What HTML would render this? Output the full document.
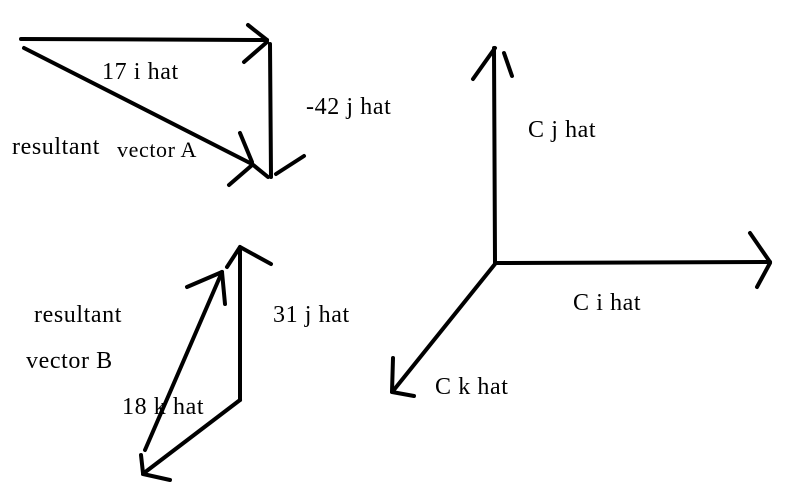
<!DOCTYPE html>
<html><head><meta charset="utf-8"><style>
html,body{margin:0;padding:0;background:#fff;}
svg{display:block;}
text{font-family:"Liberation Serif",serif;font-size:24px;letter-spacing:0.6px;fill:#000;}
</style></head><body>
<svg width="799" height="496" viewBox="0 0 799 496" xmlns="http://www.w3.org/2000/svg">
<g stroke="#000" stroke-width="4" fill="none" stroke-linecap="round" stroke-linejoin="round">
<!-- Vector A -->
<line x1="21" y1="39" x2="267" y2="40"/>
<line x1="248" y1="25" x2="267" y2="40"/>
<line x1="244" y1="62" x2="267" y2="42"/>
<line x1="270" y1="44" x2="271" y2="177"/>
<line x1="24" y1="48" x2="250" y2="163"/>
<line x1="240" y1="133" x2="252" y2="162"/>
<line x1="229" y1="185" x2="251" y2="166"/>
<line x1="276" y1="174" x2="304" y2="156"/>
<line x1="252" y1="164" x2="268" y2="177"/>
<!-- Vector B -->
<line x1="240" y1="400" x2="240" y2="248"/>
<line x1="227" y1="267" x2="240" y2="247"/>
<line x1="240" y1="247" x2="271" y2="264"/>
<line x1="145" y1="450" x2="222" y2="272"/>
<line x1="187" y1="287" x2="222" y2="272"/>
<line x1="222" y1="272" x2="225" y2="304"/>
<line x1="240" y1="400" x2="144" y2="473"/>
<line x1="141" y1="455" x2="143" y2="473"/>
<line x1="143" y1="474" x2="170" y2="480"/>
<!-- Axes -->
<line x1="495" y1="263" x2="494" y2="48"/>
<line x1="473" y1="79" x2="495" y2="48"/>
<line x1="504" y1="53" x2="512" y2="76"/>
<line x1="495" y1="263" x2="770" y2="262"/>
<line x1="750" y1="233" x2="770" y2="262"/>
<line x1="770" y1="263" x2="757" y2="287"/>
<line x1="495" y1="264" x2="393" y2="391"/>
<line x1="393" y1="358" x2="392" y2="392"/>
<line x1="392" y1="392" x2="414" y2="396"/>
</g>
<text x="102" y="79">17 i hat</text>
<text x="306" y="114">-42 j hat</text>
<text x="12" y="154">resultant</text>
<text x="117" y="157" style="font-size:22px">vector A</text>
<text x="34" y="322">resultant</text>
<text x="26" y="368">vector B</text>
<text x="273" y="322">31 j hat</text>
<text x="122" y="414">18 k hat</text>
<text x="528" y="137">C j hat</text>
<text x="573" y="310">C i hat</text>
<text x="435" y="394">C k hat</text>
</svg>
</body></html>
